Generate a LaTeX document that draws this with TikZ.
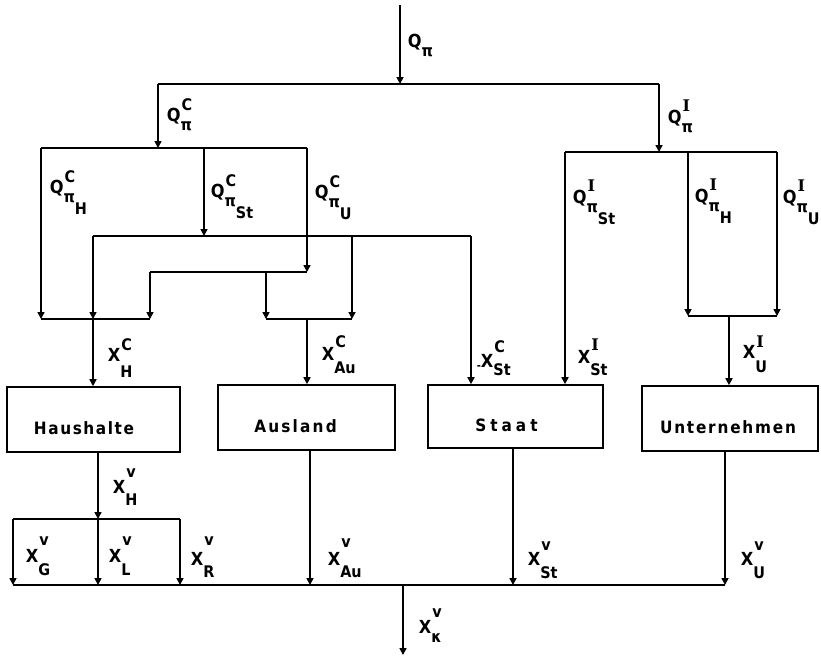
\documentclass[tikz,border=0pt]{standalone}
\usepackage{fontspec}
\setmainfont{DejaVu Sans Condensed}
\newfontfamily\serI{DejaVu Serif}
\usetikzlibrary{arrows.meta}
\newcommand\scr{\fontsize{16}{16}\selectfont}
% main, sup raise, sup, sub lower, sub
\newcommand\LB[5]{#1\rlap{\kern1pt\raisebox{#2}{\scr #3}}\raisebox{-#4}{\scr #5}}
\newcommand\QB[3]{Q\rlap{\kern1pt\raisebox{#1}{\scr #2}}\raisebox{-9pt}{\scr π\raisebox{-12pt}{#3}}}
\newcommand\Isup{{\serI I}}
\newdimen\lsp
\def\spc#1{\spcA#1\relax\kern-\lsp}
\def\spcA#1{\ifx\relax#1\else#1\kern\lsp\expandafter\spcA\fi}
\newcommand\boxtext[3]{\raisebox{-14.5pt}[0pt][0pt]{\lsp=#1\spc{#2}}\kern#3}
\begin{document}
\begin{tikzpicture}[x=1pt,y=-1pt,line width=1.6pt,
  >={Triangle[length=7pt,width=7pt]},
  lab/.style={font=\fontsize{18}{18}\selectfont\bfseries,inner sep=0pt,anchor=base west},
  box/.style={draw,inner sep=0pt,font=\fontsize{17}{17}\selectfont\bfseries}]
\useasboundingbox (0,0) rectangle (821,659);

% boxes
\node[box,minimum width=173pt,minimum height=65pt] (hh) at (93.5,419.5) {\boxtext{1.6pt}{Haushalte}{19pt}};
\node[box,minimum width=177pt,minimum height=65pt] (au) at (306.5,417.5) {\boxtext{2.2pt}{Ausland}{22pt}};
\node[box,minimum width=175pt,minimum height=63pt] (st) at (515.5,416.5) {\boxtext{4pt}{Staat}{18pt}};
\node[box,minimum width=176pt,minimum height=65pt] (un) at (730,418.5) {\boxtext{1.8pt}{Unternehmen}{4pt}};

% top distribution
\coordinate (top) at (400,5);
\coordinate (m0) at (400,84);
\coordinate (mL) at (158,84);
\coordinate (mR) at (659,84);
\draw[->] (top) -- (m0);
\draw (mL) -- (mR);

% left (C) group
\coordinate (cL) at (158,148);
\draw[->] (mL) -- (cL);
\coordinate (a1) at (41,148);
\coordinate (a2) at (204,148);
\coordinate (a3) at (307,148);
\draw (a1) -- (a3);
\coordinate (a1e) at (41,319);
\coordinate (b0) at (204,236);
\coordinate (c0) at (307,272);
\draw[->] (a1) -- (a1e);
\draw[->] (a2) -- (b0);
\draw[->] (a3) -- (c0);
\coordinate (b1) at (93,236);
\coordinate (b2) at (352,236);
\coordinate (b3) at (471,236);
\draw (b1) -- (b3);
\coordinate (b1e) at (93,319);
\coordinate (b2e) at (352,319);
\draw[->] (b1) -- (b1e);
\draw[->] (b2) -- (b2e);
\draw[->] (b3) -- (b3 |- st.north);
\coordinate (c1) at (150,272);
\coordinate (c2) at (266,272);
\draw (c1) -- (c0);
\coordinate (c1e) at (150,319);
\coordinate (c2e) at (266,319);
\draw[->] (c1) -- (c1e);
\draw[->] (c2) -- (c2e);
\draw (a1e) -- (c1e);
\draw[->] (b1e) -- (b1e |- hh.north);
\draw (c2e) -- (b2e);
\coordinate (au0) at (307,319);
\draw[->] (au0) -- (au0 |- au.north);

% right (I) group
\coordinate (rC) at (659,152);
\draw[->] (mR) -- (rC);
\coordinate (r1) at (565,152);
\coordinate (r2) at (688,152);
\coordinate (r3) at (777,152);
\draw (r1) -- (r3);
\draw[->] (r1) -- (r1 |- st.north);
\coordinate (r2e) at (688,316);
\coordinate (r3e) at (777,316);
\draw[->] (r2) -- (r2e);
\draw[->] (r3) -- (r3e);
\draw (r2e) -- (r3e);
\coordinate (un0) at (729,316);
\draw[->] (un0) -- (un0 |- un.north);

% outputs
\coordinate (hv) at (98,519);
\draw[->] (hv |- hh.south) -- (hv);
\coordinate (g1) at (13,519);
\coordinate (g3) at (180,519);
\draw (g1) -- (g3);
\coordinate (o1) at (13,585);
\coordinate (o2) at (98,585);
\coordinate (o3) at (180,585);
\draw[->] (g1) -- (o1);
\draw[->] (hv) -- (o2);
\draw[->] (g3) -- (o3);
\coordinate (auv) at (310,585);
\coordinate (stv) at (513,585);
\coordinate (unv) at (725,585);
\draw[->] (auv |- au.south) -- (auv);
\draw[->] (stv |- st.south) -- (stv);
\draw[->] (unv |- un.south) -- (unv);
\draw (o1) -- (unv);
\coordinate (out0) at (403,585);
\coordinate (out1) at (403,655);
\draw[->] (out0) -- (out1);

% labels
\node[lab] (lq0) at (407,47) {Q\raisebox{-9pt}{\scr π}};
\node[lab] (lqc) at (166,121) {\QB{11pt}{C}{}};
\node[lab] (lqi) at (667,123) {\QB{12pt}{\Isup}{}};
\node[lab] (lqch) at (49,193) {\QB{11pt}{C}{H}};
\node[lab] (lqcst) at (210,197) {\QB{11pt}{C}{St}};
\node[lab] (lqcu) at (314,198) {\QB{11pt}{C}{U}};
\node[lab] (lqist) at (572,203) {\QB{12pt}{\Isup}{St}};
\node[lab] (lqih) at (694,202) {\QB{12pt}{\Isup}{H}};
\node[lab] (lqiu) at (782,203) {\QB{12pt}{\Isup}{U}};
\node[lab] (lxch) at (107,361) {\LB{X}{11pt}{C}{16pt}{H}};
\node[lab] (lxcau) at (321,360) {\LB{X}{13pt}{C}{13pt}{Au}};
\node[lab] (lxcst) at (476,367) {\raisebox{-2pt}{\fontsize{11}{11}\selectfont -}\LB{X}{15pt}{C}{8pt}{St}};
\node[lab] (lxist) at (577,363) {\LB{X}{13pt}{\Isup}{12pt}{St}};
\node[lab] (lxiu) at (742,358) {\LB{X}{11pt}{\Isup}{14pt}{U}};
\node[lab] (lxvh) at (112,493) {\LB{X}{16pt}{v}{12pt}{H}};
\node[lab] (lxvg) at (25,562) {\LB{X}{17pt}{v}{13pt}{G}};
\node[lab] (lxvl) at (108,562) {\LB{X}{17pt}{v}{13pt}{L}};
\node[lab] (lxvr) at (190,565) {\LB{X}{20pt}{v}{12pt}{R}};
\node[lab] (lxvau) at (327,565) {\LB{X}{18pt}{v}{12pt}{Au}};
\node[lab] (lxvst) at (527,565) {\LB{X}{15pt}{v}{13pt}{St}};
\node[lab] (lxvu) at (740,565) {\LB{X}{15pt}{v}{13pt}{U}};
\node[lab] (lxvk) at (418,633) {\LB{X}{16pt}{v}{9pt}{κ}};
\end{tikzpicture}
\end{document}
